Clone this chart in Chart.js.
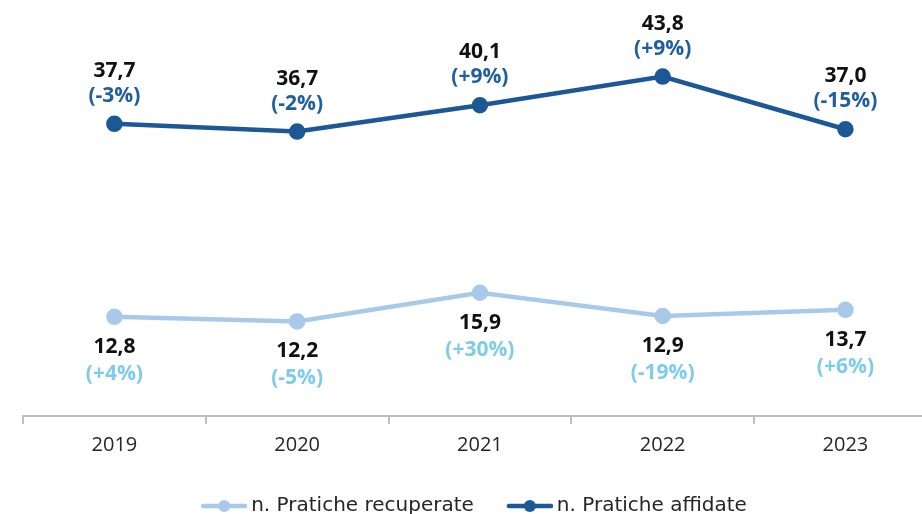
<!DOCTYPE html>
<html>
<head>
<meta charset="utf-8">
<script src="https://cdn.jsdelivr.net/npm/chart.js@4.4.1/dist/chart.umd.min.js"></script>
<style>
  html, body { margin: 0; padding: 0; background: #fff; }
  #wrap { width: 922px; height: 514px; }
</style>
</head>
<body>
<div id="wrap"><canvas id="chart" width="922" height="514"></canvas></div>
<script>
let years = ['2019', '2020', '2021', '2022', '2023'];
let recuperate = [12.8, 12.2, 15.9, 12.9, 13.7];
let recuperateChange = [4, -5, 30, -19, 6];
let affidate = [37.7, 36.7, 40.1, 43.8, 37.0];
let affidateChange = [-3, -2, 9, 9, -15];

let darkBlue = '#1c5796';
let lightBlue = '#a9c9ea';

// legend marker: short line with a dot in the middle, padded on the left
function lineMarker(color) {
    let c = document.createElement('canvas');
    c.width = 55;
    c.height = 14;
    let g = c.getContext('2d');
    g.strokeStyle = color;
    g.lineWidth = 4.5;
    g.lineCap = 'round';
    g.beginPath();
    g.moveTo(11, 7);
    g.lineTo(53, 7);
    g.stroke();
    g.fillStyle = color;
    g.beginPath();
    g.arc(32, 7, 6, 0, Math.PI * 2);
    g.fill();
    return c;
}
let markers = [lineMarker(lightBlue), lineMarker(darkBlue)];

function fmt(v) {
    return v.toFixed(1).replace('.', ',');
}
function fmtChange(p) {
    return '(' + (p > 0 ? '+' : '') + p + '%)';
}

// value + change labels, above the dark line and below the light one
let labels = {
    id: 'pointLabels',
    afterDatasetsDraw: function (chart) {
        let ctx = chart.ctx;
        ctx.save();
        ctx.textAlign = 'center';
        ctx.textBaseline = 'middle';
        ctx.font = 'bold 21px "Open Sans"';
        chart.data.datasets.forEach(function (ds, i) {
            let meta = chart.getDatasetMeta(i);
            meta.data.forEach(function (pt, j) {
                let vy, cy;
                if (ds.labelSide === 'above') {
                    vy = pt.y - 53;
                    cy = pt.y - 28;
                } else {
                    vy = pt.y + 30;
                    cy = pt.y + 57;
                }
                ctx.fillStyle = '#111111';
                ctx.fillText(fmt(ds.data[j].y), pt.x, vy);
                ctx.fillStyle = ds.changeColor;
                ctx.fillText(fmtChange(ds.changes[j]), pt.x, cy);
            });
        });
        ctx.restore();
    }
};

let toPoints = function (values) {
    return values.map(function (v, i) { return { x: i, y: v }; });
};

new Chart(document.getElementById('chart').getContext('2d'), {
    type: 'line',
    data: {
        datasets: [{
            label: 'n. Pratiche recuperate',
            data: toPoints(recuperate),
            changes: recuperateChange,
            changeColor: '#7fcbec',
            labelSide: 'below',
            borderColor: lightBlue,
            backgroundColor: lightBlue,
            borderWidth: 4.5,
            pointRadius: 6,
            pointHoverRadius: 6,
            tension: 0
        }, {
            label: 'n. Pratiche affidate',
            data: toPoints(affidate),
            changes: affidateChange,
            changeColor: '#1f5fa0',
            labelSide: 'above',
            borderColor: darkBlue,
            backgroundColor: darkBlue,
            borderWidth: 4.5,
            pointRadius: 6,
            pointHoverRadius: 6,
            tension: 0
        }]
    },
    options: {
        responsive: false,
        animation: false,
        layout: {
            autoPadding: false,
            padding: { top: 28.5, left: 23, right: 0, bottom: -12 }
        },
        plugins: {
            tooltip: { enabled: false },
            legend: {
                position: 'bottom',
                labels: {
                    usePointStyle: true,
                    pointStyleWidth: 43,
                    padding: 30,
                    color: '#262626',
                    font: { family: '"DejaVu Sans"', size: 20 },
                    generateLabels: function (chart) {
                        return chart.data.datasets.map(function (ds, i) {
                            return {
                                text: ds.label,
                                pointStyle: markers[i],
                                datasetIndex: i,
                                fontColor: '#262626',
                                lineWidth: 0,
                                strokeStyle: 'rgba(0,0,0,0)',
                                fillStyle: 'rgba(0,0,0,0)'
                            };
                        });
                    }
                }
            }
        },
        scales: {
            x: {
                type: 'linear',
                min: -0.5,
                max: 4.419,
                // the axis runs to the right edge, no room kept for the last label
                afterFit: function (scale) {
                    scale.paddingLeft = 0;
                    scale.paddingRight = 0;
                },
                border: { display: true, color: '#bfbfbf', width: 2 },
                grid: {
                    drawOnChartArea: false,
                    drawTicks: true,
                    tickLength: 8,
                    lineWidth: 2,
                    color: function (c) {
                        return Number.isInteger(c.tick.value) ? 'rgba(0,0,0,0)' : '#bfbfbf';
                    }
                },
                ticks: {
                    stepSize: 0.5,
                    includeBounds: false,
                    autoSkip: false,
                    maxRotation: 0,
                    padding: 9,
                    color: '#262626',
                    font: { family: '"Open Sans"', size: 20 },
                    callback: function (v) {
                        return Number.isInteger(v) ? years[v] : '';
                    }
                }
            },
            y: {
                display: false,
                min: 0,
                max: 50
            }
        }
    },
    plugins: [labels]
});
</script>
</body>
</html>
